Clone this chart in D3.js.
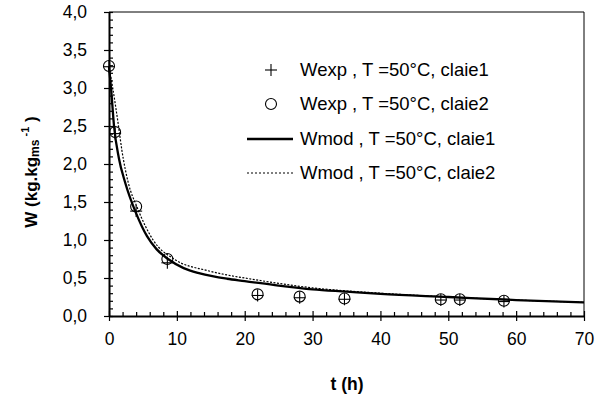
<!DOCTYPE html>
<html>
<head>
<meta charset="utf-8">
<script src="https://cdn.jsdelivr.net/npm/d3@7"></script>
<style>
  body { margin: 0; background: #fff; }
  text { font-family: Arial, "Liberation Sans", sans-serif; fill: #000; }
</style>
</head>
<body>
<div class="canvas"></div>
<script>
// data
var t_exp = [0, 0.9, 4.0, 8.6, 21.9, 28.1, 34.7, 48.9, 51.7, 58.2]
var w_exp1 = [3.28, 2.40, 1.38, 0.70, 0.27, 0.24, 0.22, 0.21, 0.21, 0.19]
var w_exp2 = [3.29, 2.42, 1.44, 0.75, 0.285, 0.255, 0.23, 0.22, 0.22, 0.20]

var t_mod1 = [0, 0.3, 0.74, 1.45, 2.4, 4.0, 5.6, 7.0, 8.7, 11, 13.4, 17.4, 20, 25, 30, 35, 40, 50, 60, 70]
var w_mod1 = [3.28, 3.0, 2.5, 2.08, 1.75, 1.35, 1.05, 0.88, 0.75, 0.63, 0.56, 0.49, 0.46, 0.40, 0.35, 0.32, 0.29, 0.25, 0.21, 0.18]
var t_mod2 = [0, 0.55, 1.4, 1.9, 2.85, 4.1, 6.5, 9.75, 14.4, 17.4, 20, 25, 30, 35, 40, 50, 60, 70]
var w_mod2 = [3.28, 3.0, 2.5, 2.18, 1.75, 1.44, 1.0, 0.74, 0.60, 0.54, 0.50, 0.43, 0.37, 0.33, 0.30, 0.25, 0.21, 0.18]

var legend_labels = ['Wexp , T =50°C, claie1', 'Wexp , T =50°C, claie2', 'Wmod , T =50°C, claie1', 'Wmod , T =50°C, claie2']
var x_ticks = [0, 10, 20, 30, 40, 50, 60, 70]
var y_ticks = [0, 0.5, 1, 1.5, 2, 2.5, 3, 3.5, 4]

var svg = d3.select(".canvas").append("svg").attr("width", 595).attr("height", 397)

// plot box (pixels)
var pl = 109, pr = 584, pt = 12, pb = 316

var x = d3.scaleLinear().domain([0, 70]).range([pl, pr])
var y = d3.scaleLinear().domain([0, 4]).range([pb, pt])

var comma = d3.formatLocale({decimal: ",", thousands: " ", grouping: [3], currency: ["", ""]}).format(".1f")

// frame (top & right)
svg.append('line').attr('x1', pl).attr('y1', pt).attr('x2', pr).attr('y2', pt)
    .attr('stroke', 'black').attr('stroke-width', 1)
svg.append('line').attr('x1', pr).attr('y1', pt).attr('x2', pr).attr('y2', pb)
    .attr('stroke', 'black').attr('stroke-width', 1)

// minor ticks (inside)
var xMinor = d3.range(0, 70.01, 2).filter(d => d % 10 != 0)
svg.append('g').attr('transform', 'translate(0,' + pb + ')')
    .call(d3.axisBottom(x).tickValues(xMinor).tickSize(-4).tickFormat(''))
    .call(g => g.select('.domain').remove())
var yMinor = d3.range(0, 40.1, 1).filter(d => d % 5 != 0).map(d => d / 10)
svg.append('g').attr('transform', 'translate(' + pl + ',0)')
    .call(d3.axisLeft(y).tickValues(yMinor).tickSize(-4).tickFormat(''))
    .call(g => g.select('.domain').remove())

// major axes, ticks crossing
var xAxis = svg.append('g').attr('transform', 'translate(0,' + pb + ')')
    .call(d3.axisBottom(x).tickValues(x_ticks).tickSize(5).tickSizeOuter(0).tickPadding(12))
xAxis.selectAll('.tick line').attr('y1', -5)
xAxis.selectAll('text').attr('font-size', 17.5).attr('font-family', 'Arial, "Liberation Sans"')

var yAxis = svg.append('g').attr('transform', 'translate(' + pl + ',0)')
    .call(d3.axisLeft(y).tickValues(y_ticks).tickSize(5).tickSizeOuter(0).tickPadding(17).tickFormat(comma))
yAxis.selectAll('.tick line').attr('x1', 4)
yAxis.selectAll('text').attr('font-size', 17.5).attr('font-family', 'Arial, "Liberation Sans"')

svg.selectAll('.domain').attr('stroke-width', 2)
svg.selectAll('.tick line').attr('stroke-width', 1.2)

// axis titles
svg.append('text').attr('x', 347).attr('y', 390).attr('text-anchor', 'middle')
    .attr('font-size', 17.5).attr('font-weight', 'bold').text('t (h)')

var yt = svg.append('text').attr('transform', 'translate(37,172) rotate(-90)')
    .attr('text-anchor', 'middle').attr('font-size', 17).attr('font-weight', 'bold')
yt.append('tspan').text('W (kg.kg')
yt.append('tspan').attr('font-size', 12).attr('dy', 2).text('ms')
yt.append('tspan').attr('font-size', 11).attr('dy', -10).text(' -1')
yt.append('tspan').attr('dy', 8).text(' )')

// model curves
var line = d3.line().curve(d3.curveMonotoneX)
svg.append('path')
    .attr('d', line(t_mod2.map((t, i) => [x(t), y(w_mod2[i])])))
    .attr('fill', 'none').attr('stroke', 'black').attr('stroke-width', 1.2)
    .attr('stroke-dasharray', '2,1.5')
svg.append('path')
    .attr('d', line(t_mod1.map((t, i) => [x(t), y(w_mod1[i])])))
    .attr('fill', 'none').attr('stroke', 'black').attr('stroke-width', 2.3)

// experimental points
function plus(g, cx, cy) {
    g.append('line').attr('x1', cx - 6).attr('y1', cy).attr('x2', cx + 6).attr('y2', cy)
        .attr('stroke', 'black').attr('stroke-width', 1.1)
    g.append('line').attr('x1', cx).attr('y1', cy - 6).attr('x2', cx).attr('y2', cy + 6)
        .attr('stroke', 'black').attr('stroke-width', 1.1)
}
var pts = svg.append('g')
t_exp.forEach(function(t, i) {
    plus(pts, x(t), y(w_exp1[i]))
    pts.append('circle').attr('cx', x(t)).attr('cy', y(w_exp2[i])).attr('r', 5.5)
        .attr('fill', 'none').attr('stroke', 'black').attr('stroke-width', 1.1)
})

// legend
var ly = [70, 104, 139, 173]
var leg = svg.append('g')
plus(leg, 271, ly[0])
leg.append('circle').attr('cx', 271).attr('cy', ly[1]).attr('r', 5.5)
    .attr('fill', 'none').attr('stroke', 'black').attr('stroke-width', 1.1)
leg.append('line').attr('x1', 247).attr('x2', 293).attr('y1', ly[2]).attr('y2', ly[2])
    .attr('stroke', 'black').attr('stroke-width', 2.3)
leg.append('line').attr('x1', 247).attr('x2', 293).attr('y1', ly[3]).attr('y2', ly[3])
    .attr('stroke', 'black').attr('stroke-width', 1.2).attr('stroke-dasharray', '2,2')
legend_labels.forEach(function(s, i) {
    leg.append('text').attr('x', 300).attr('y', ly[i] + 6).attr('font-size', 18.5).text(s)
})
</script>
</body>
</html>
